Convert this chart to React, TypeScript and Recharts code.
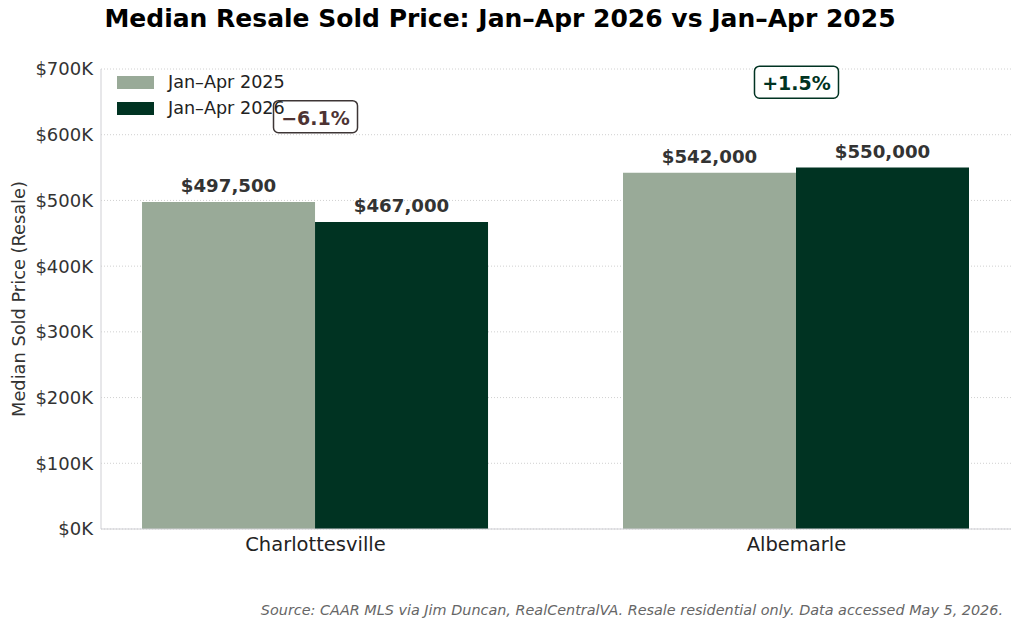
import { BarChart, Bar, XAxis, YAxis, CartesianGrid, LabelList, ReferenceDot } from 'recharts'

const categories = ['Charlottesville', 'Albemarle']
const price2025 = [497500, 542000]
const price2026 = [467000, 550000]
const changeLabels = ['\u22126.1%', '+1.5%']
const yTicks = [0, 100000, 200000, 300000, 400000, 500000, 600000, 700000]

const COLOR_2025 = '#99aa98'
const COLOR_2026 = '#003322'
const FONT = '"DejaVu Sans", sans-serif'

const data = categories.map((name, i) => ({
  x: i,
  name,
  y2025: price2025[i],
  y2026: price2026[i],
}))

const fmtMoney = (v: number) => '$' + v.toLocaleString('en-US')
const fmtK = (v: number) => `$${v / 1000}K`

function ChangeBox({ cx, cy, text, down }: { cx?: number; cy?: number; text: string; down: boolean }) {
  const w = 84
  const h = 32
  const x = (cx ?? 0) - w / 2
  const y = (cy ?? 0) - h / 2
  return (
    <g>
      <rect x={x} y={y} width={w} height={h} rx={5} ry={5} fill="rgba(255,255,255,0.85)" stroke={down ? '#3d3535' : COLOR_2026} strokeWidth={1.5} />
      <text x={cx} y={(cy ?? 0) + 1} textAnchor="middle" dominantBaseline="central" fontSize={19} fontWeight={700} fill={down ? '#4d3333' : COLOR_2026} fontFamily={FONT}>
        {text}
      </text>
    </g>
  )
}

export default function App() {
  return (
    <div style={{ position: 'absolute', left: 0, top: 0, width: 1024, height: 633, background: '#fff', fontFamily: FONT }}>
      <div style={{ position: 'absolute', left: 0, width: 1000, top: 4, textAlign: 'center', fontSize: 25, fontWeight: 700, color: '#000' }}>
        Median Resale Sold Price: Jan–Apr 2026 vs Jan–Apr 2025
      </div>
      <BarChart
        width={1024}
        height={633}
        data={data}
        margin={{ top: 69, right: 13, bottom: 74, left: 0 }}
        barGap={0}
      >
        <CartesianGrid vertical={false} stroke="#d0d0d0" strokeDasharray="1 2" />
        <XAxis
          dataKey="x"
          type="number"
          domain={[-0.446, 1.446]}
          ticks={[0, 1]}
          allowDataOverflow
          tickFormatter={(v) => categories[v] ?? ''}
          tickLine={false}
          tickMargin={2}
          stroke="#cfcfd4"
          tick={{ fontSize: 19.5, fill: '#222', fontFamily: FONT }}
        />
        <YAxis
          width={101}
          domain={[0, 700000]}
          ticks={yTicks}
          tickFormatter={fmtK}
          tickLine={false}
          stroke="#cfcfd4"
          tick={{ fontSize: 18, fill: '#333', fontFamily: FONT }}
          label={{ value: 'Median Sold Price (Resale)', angle: -90, position: 'insideLeft', offset: 19, style: { textAnchor: 'middle', fontSize: 17.8, fill: '#333', fontFamily: FONT } }}
        />
        <Bar dataKey="y2025" fill={COLOR_2025} barSize={173} isAnimationActive={false}>
          <LabelList dataKey="y2025" position="top" offset={10} formatter={(v: any) => fmtMoney(v)} style={{ fontSize: 18.2, fontWeight: 700, fill: '#333', fontFamily: FONT }} />
        </Bar>
        <Bar dataKey="y2026" fill={COLOR_2026} barSize={173} isAnimationActive={false}>
          <LabelList dataKey="y2026" position="top" offset={10} formatter={(v: any) => fmtMoney(v)} style={{ fontSize: 18.2, fontWeight: 700, fill: '#333', fontFamily: FONT }} />
        </Bar>
        {data.map((d, i) => (
          <ReferenceDot
            key={d.name}
            x={d.x}
            y={Math.max(d.y2025, d.y2026) + 130000}
            ifOverflow="visible"
            shape={(p: any) => <ChangeBox cx={p.cx} cy={p.cy} text={changeLabels[i]} down={d.y2026 < d.y2025} />}
          />
        ))}
      </BarChart>
      <div style={{ position: 'absolute', left: 117, top: 69, fontSize: 17.6, color: '#222', lineHeight: '26px' }}>
        <div style={{ display: 'flex', alignItems: 'center' }}>
          <span style={{ display: 'inline-block', width: 37, height: 13, background: COLOR_2025, marginRight: 14 }} />
          Jan–Apr 2025
        </div>
        <div style={{ display: 'flex', alignItems: 'center' }}>
          <span style={{ display: 'inline-block', width: 37, height: 13, background: COLOR_2026, marginRight: 14 }} />
          Jan–Apr 2026
        </div>
      </div>
      <div style={{ position: 'absolute', right: 21, top: 602, fontSize: 14.4, fontStyle: 'italic', color: '#666' }}>
        Source: CAAR MLS via Jim Duncan, RealCentralVA. Resale residential only. Data accessed May 5, 2026.
      </div>
    </div>
  )
}
